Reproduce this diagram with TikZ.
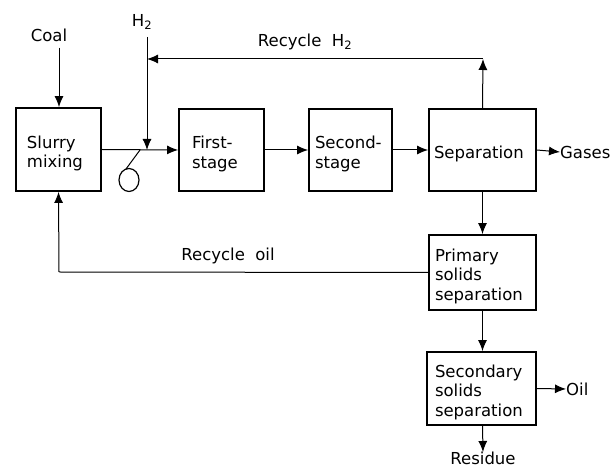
\documentclass[tikz,border=0pt]{standalone}
\usepackage{fontspec}
\setmainfont{DejaVu Sans}
\usetikzlibrary{arrows.meta}
\newcommand{\topstrut}{\rule{0pt}{20pt}}
\begin{document}
\begin{tikzpicture}[x=1pt,y=-1pt,
  procbox/.style={draw,line width=1.8pt,rectangle,align=left,font=\fontsize{16.5}{19.5}\selectfont,inner ysep=0pt},
  lbl/.style={font=\fontsize{16.5}{19.5}\selectfont,inner sep=0pt},
  flow/.style={line width=1pt,-{Latex[length=11pt,width=9pt]}},
  pipe/.style={line width=1pt}]
\useasboundingbox (0,0) rectangle (611,470);
% boxes
\node[procbox,minimum width=85pt,minimum height=83pt,inner xsep=11pt,text width=63pt] (slurry) at (58.5,149.5) {\topstrut Slurry\\mixing};
\node[procbox,minimum width=85pt,minimum height=82pt,inner xsep=13pt,text width=59pt] (first) at (221.5,150) {\topstrut First-\\stage};
\node[procbox,minimum width=83pt,minimum height=82pt,inner xsep=6pt,text width=71pt] (second) at (350.5,150) {\topstrut Second-\\stage};
\node[procbox,minimum width=107pt,minimum height=82pt,inner xsep=5pt,text width=97pt] (sep) at (482.5,150) {\topstrut Separation};
\node[procbox,minimum width=107pt,minimum height=75pt,inner xsep=6pt,text width=95pt] (prim) at (482.5,272.5) {\topstrut Primary\\solids\\separation};
\node[procbox,minimum width=109pt,minimum height=73pt,inner xsep=8pt,text width=93pt] (sec) at (481.5,388.5) {\topstrut Secondary\\solids\\separation};
% labels
\node[lbl] (coal) at (49,35) {Coal};
\node[lbl] (h2) at (142,22) {H\textsubscript{2}};
\node[lbl] (rech2) at (305,42) {Recycle\ \ H\textsubscript{2}};
\node[lbl] (recoil) at (228,256) {Recycle\ \ oil};
\node[lbl,anchor=west] (gases) at (560,152) {Gases};
\node[lbl,anchor=west] (oil) at (566,389) {Oil};
\node[lbl,anchor=north] (residue) at (483,452) {Residue};
% coordinates
\coordinate (h2top) at (147,37);
\coordinate (junc) at (147,150);
\coordinate (rtop) at (483,59);
\coordinate (rleft) at (147,59);
\coordinate (oilcorner) at (59,272);
\coordinate (pump) at (129,180);
% mixer symbol
\draw[line width=1.2pt] (pump) ellipse (10pt and 11.5pt);
\draw[line width=1pt] (126,169) -- (140,150);
% connectors
\draw[flow] (coal.south) ++(10,6) -- (slurry.north -| 59,0);
\draw[flow] (slurry.east) -- (first.west);
\draw[flow] (h2top) -- (junc);
\draw[flow] (first.east) -- (second.west);
\draw[flow] (second.east) -- (sep.west);
\draw[flow] (sep.north) -- (rtop);
\draw[flow] (rtop) -- (rleft);
\draw[flow] (sep.east) -- (gases.west);
\draw[flow] (sep.south) -- (prim.north);
\draw[pipe] (prim.west) -- (oilcorner);
\draw[flow] (oilcorner) -- (slurry.south);
\draw[flow] (prim.south) -- (sec.north -| prim.south);
\draw[flow] (sec.east) -- (oil.west);
\draw[flow] (sec.south -| prim.south) -- (residue.north);
\end{tikzpicture}
\end{document}
